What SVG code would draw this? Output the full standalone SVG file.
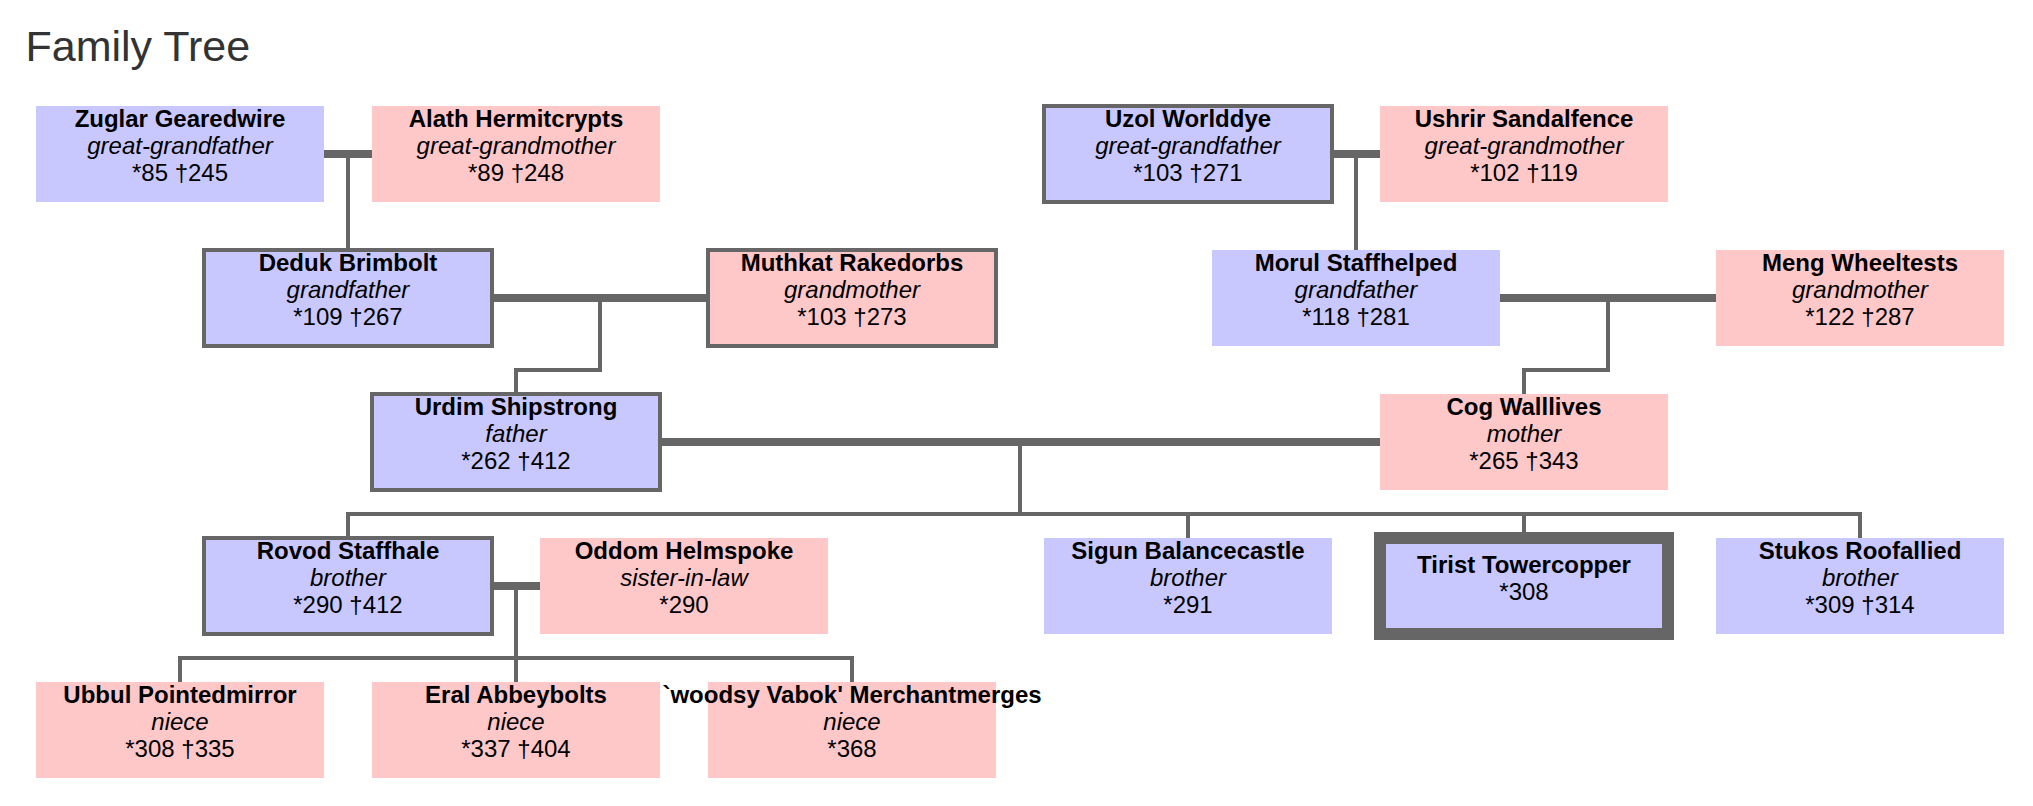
<svg xmlns="http://www.w3.org/2000/svg" width="2033" height="806" viewBox="0 0 2033 806">
<style>
text{font-family:"Liberation Sans",Arial,sans-serif;font-size:24px;text-anchor:middle;fill:#000}
.title{font-size:43px;text-anchor:start;fill:#333}
.n{font-weight:bold}
.r{font-style:italic}
.m{fill:#c8c8ff}
.f{fill:#ffc8c8}
.b{stroke:#666;stroke-width:4}
.bb{stroke:#666;stroke-width:12}
.thick{fill:none;stroke:#666;stroke-width:8}
.thin{fill:none;stroke:#666;stroke-width:4;stroke-linejoin:miter}
</style>
<rect width="2033" height="806" fill="#fff"/>
<text class="title" x="25.5" y="61">Family Tree</text>
<g id="connectors">
<path class="thick" d="M324,154H372M1332,154H1380M492,298H708M1500,298H1716M660,442H1380M492,586H540"/>
<path class="thin" d="M348,154V250M1356,154V250"/>
<path class="thin" d="M600,298V370H516V394"/>
<path class="thin" d="M1608,298V370H1524V394"/>
<path class="thin" d="M1020,442V514"/>
<path class="thin" d="M348,538V514H1860V538"/>
<path class="thin" d="M1188,514V538M1524,514V538"/>
<path class="thin" d="M516,586V682"/>
<path class="thin" d="M180,682V658H852V682"/>
</g>
<g id="zuglar"><rect class="m" x="36" y="106" width="288" height="96"/><text class="n" x="180" y="127">Zuglar Gearedwire</text><text class="r" x="180" y="154">great-grandfather</text><text x="180" y="180.5">*85 †245</text></g>
<g id="alath"><rect class="f" x="372" y="106" width="288" height="96"/><text class="n" x="516" y="127">Alath Hermitcrypts</text><text class="r" x="516" y="154">great-grandmother</text><text x="516" y="180.5">*89 †248</text></g>
<g id="uzol"><rect class="m b" x="1044" y="106" width="288" height="96"/><text class="n" x="1188" y="127">Uzol Worlddye</text><text class="r" x="1188" y="154">great-grandfather</text><text x="1188" y="180.5">*103 †271</text></g>
<g id="ushrir"><rect class="f" x="1380" y="106" width="288" height="96"/><text class="n" x="1524" y="127">Ushrir Sandalfence</text><text class="r" x="1524" y="154">great-grandmother</text><text x="1524" y="180.5">*102 †119</text></g>
<g id="deduk"><rect class="m b" x="204" y="250" width="288" height="96"/><text class="n" x="348" y="271">Deduk Brimbolt</text><text class="r" x="348" y="298">grandfather</text><text x="348" y="324.5">*109 †267</text></g>
<g id="muthkat"><rect class="f b" x="708" y="250" width="288" height="96"/><text class="n" x="852" y="271">Muthkat Rakedorbs</text><text class="r" x="852" y="298">grandmother</text><text x="852" y="324.5">*103 †273</text></g>
<g id="morul"><rect class="m" x="1212" y="250" width="288" height="96"/><text class="n" x="1356" y="271">Morul Staffhelped</text><text class="r" x="1356" y="298">grandfather</text><text x="1356" y="324.5">*118 †281</text></g>
<g id="meng"><rect class="f" x="1716" y="250" width="288" height="96"/><text class="n" x="1860" y="271">Meng Wheeltests</text><text class="r" x="1860" y="298">grandmother</text><text x="1860" y="324.5">*122 †287</text></g>
<g id="urdim"><rect class="m b" x="372" y="394" width="288" height="96"/><text class="n" x="516" y="415">Urdim Shipstrong</text><text class="r" x="516" y="442">father</text><text x="516" y="468.5">*262 †412</text></g>
<g id="cog"><rect class="f" x="1380" y="394" width="288" height="96"/><text class="n" x="1524" y="415">Cog Walllives</text><text class="r" x="1524" y="442">mother</text><text x="1524" y="468.5">*265 †343</text></g>
<g id="rovod"><rect class="m b" x="204" y="538" width="288" height="96"/><text class="n" x="348" y="559">Rovod Staffhale</text><text class="r" x="348" y="586">brother</text><text x="348" y="612.5">*290 †412</text></g>
<g id="oddom"><rect class="f" x="540" y="538" width="288" height="96"/><text class="n" x="684" y="559">Oddom Helmspoke</text><text class="r" x="684" y="586">sister-in-law</text><text x="684" y="612.5">*290</text></g>
<g id="sigun"><rect class="m" x="1044" y="538" width="288" height="96"/><text class="n" x="1188" y="559">Sigun Balancecastle</text><text class="r" x="1188" y="586">brother</text><text x="1188" y="612.5">*291</text></g>
<g id="tirist"><rect class="m bb" x="1380" y="538" width="288" height="96"/><text class="n" x="1524" y="573">Tirist Towercopper</text><text x="1524" y="600">*308</text></g>
<g id="stukos"><rect class="m" x="1716" y="538" width="288" height="96"/><text class="n" x="1860" y="559">Stukos Roofallied</text><text class="r" x="1860" y="586">brother</text><text x="1860" y="612.5">*309 †314</text></g>
<g id="ubbul"><rect class="f" x="36" y="682" width="288" height="96"/><text class="n" x="180" y="703">Ubbul Pointedmirror</text><text class="r" x="180" y="730">niece</text><text x="180" y="756.5">*308 †335</text></g>
<g id="eral"><rect class="f" x="372" y="682" width="288" height="96"/><text class="n" x="516" y="703">Eral Abbeybolts</text><text class="r" x="516" y="730">niece</text><text x="516" y="756.5">*337 †404</text></g>
<g id="woodsy"><rect class="f" x="708" y="682" width="288" height="96"/><text class="n" x="852" y="703">`woodsy Vabok' Merchantmerges</text><text class="r" x="852" y="730">niece</text><text x="852" y="756.5">*368</text></g>
</svg>
